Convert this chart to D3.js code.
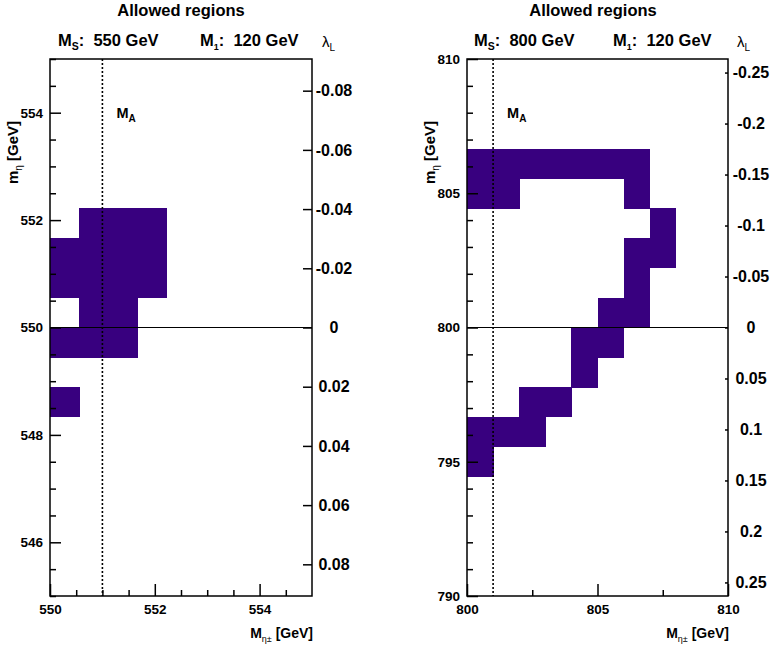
<!DOCTYPE html>
<html>
<head>
<meta charset="utf-8">
<script src="https://cdn.jsdelivr.net/npm/d3@7"></script>
<style>
  body { margin: 0; background: #fff; }
  svg { display: block; }
  text { font-family: "Liberation Sans", Arial, Helvetica, sans-serif; font-weight: bold; fill: #000; }
</style>
</head>
<body>
<svg id="chart" width="770" height="649"></svg>
<script>
// Scan parameters of each panel
const scalarMass = [550, 800];        // M_S [GeV]
const inertMass = [120, 120];         // M_1 [GeV]
const pseudoscalarMass = [551, 801];  // M_A [GeV]

// Histogram binning: charged mass (x) and neutral mass (y)
const chargedRange = [[550, 555], [800, 810]];
const chargedBins = [9, 10];
const neutralRange = [[545, 555], [790, 810]];
const neutralBins = [18, 18];

// Allowed bins, as [x bin, y bin]
const allowedLeft = [
  [1, 12], [2, 12], [3, 12],
  [0, 11], [1, 11], [2, 11], [3, 11],
  [0, 10], [1, 10], [2, 10], [3, 10],
  [1, 9], [2, 9],
  [0, 8], [1, 8], [2, 8],
  [0, 6]
];
const allowedRight = [
  [0, 14], [1, 14], [2, 14], [3, 14], [4, 14], [5, 14], [6, 14],
  [0, 13], [1, 13], [6, 13],
  [7, 12],
  [6, 11], [7, 11],
  [6, 10],
  [5, 9], [6, 9],
  [4, 8], [5, 8],
  [4, 7],
  [2, 6], [3, 6],
  [0, 5], [1, 5], [2, 5],
  [0, 4]
];

// Axis ticks
const xMajorTicks = [[550, 552, 554], [800, 805, 810]];
const xMinorTicks = [
  [550.5, 551, 551.5, 552.5, 553, 553.5, 554.5],
  [802.5, 807.5]
];
const yMajorTicks = [[546, 548, 550, 552, 554], [790, 795, 800, 805, 810]];
const yMinorTicks = [
  [545, 545.5, 546.5, 547, 547.5, 548.5, 549, 549.5, 550.5, 551, 551.5, 552.5, 553, 553.5, 554.5, 555],
  [791, 792, 793, 794, 796, 797, 798, 799, 801, 802, 803, 804, 806, 807, 808, 809]
];
// lambda_L axis: value at the frame edges, ticks and their labels
const lambdaEdge = [0.0907, 0.2633];
const lambdaTicks = [
  [-0.08, -0.06, -0.04, -0.02, 0, 0.02, 0.04, 0.06, 0.08],
  [-0.25, -0.2, -0.15, -0.1, -0.05, 0, 0.05, 0.1, 0.15, 0.2, 0.25]
];
const lambdaLabels = [
  ["-0.08", "-0.06", "-0.04", "-0.02", "0", "0.02", "0.04", "0.06", "0.08"],
  ["-0.25", "-0.2", "-0.15", "-0.1", "-0.05", "0", "0.05", "0.1", "0.15", "0.2", "0.25"]
];

const svg = d3.select("#chart");
const fill = "#38007f";

// Panel frames
const frames = [
  { x0: 50, x1: 312, y0: 59, y1: 596, titleX: 181, msX: 58, m1X: 200, lamX: 322, lamLabelX: 334, lamTick: 9 },
  { x0: 467, x1: 728, y0: 59, y1: 596, titleX: 593, msX: 474, m1X: 613, lamX: 737, lamLabelX: 751, lamTick: 3 }
];
const cells = [allowedLeft, allowedRight];

function styleTicks(sel) {
  sel.selectAll(".domain").remove();
  sel.selectAll(".tick line").attr("stroke", "#000").attr("stroke-width", 1.5);
  sel.attr("font-family", null).attr("font-size", null);
}

frames.forEach((f, p) => {
  const g = svg.append("g");
  const x = d3.scaleLinear().domain(chargedRange[p]).range([f.x0, f.x1]);
  const y = d3.scaleLinear().domain(neutralRange[p]).range([f.y1, f.y0]);
  const lam = d3.scaleLinear().domain([-lambdaEdge[p], lambdaEdge[p]]).range([f.y0, f.y1]);

  const bx = (chargedRange[p][1] - chargedRange[p][0]) / chargedBins[p];
  const by = (neutralRange[p][1] - neutralRange[p][0]) / neutralBins[p];

  // allowed bins
  g.append("g").selectAll("rect").data(cells[p]).join("rect")
    .attr("x", d => x(chargedRange[p][0] + d[0] * bx))
    .attr("y", d => y(neutralRange[p][0] + (d[1] + 1) * by))
    .attr("width", d => x(chargedRange[p][0] + (d[0] + 1) * bx) - x(chargedRange[p][0] + d[0] * bx) + 0.4)
    .attr("height", d => y(neutralRange[p][0] + d[1] * by) - y(neutralRange[p][0] + (d[1] + 1) * by) + 0.4)
    .attr("fill", fill)
    .attr("shape-rendering", "crispEdges");

  // lambda_L = 0 line
  g.append("line")
    .attr("x1", f.x0).attr("x2", f.x1)
    .attr("y1", lam(0)).attr("y2", lam(0))
    .attr("stroke", "#000").attr("stroke-width", 1.2);

  // M_A marker
  g.append("line")
    .attr("x1", x(pseudoscalarMass[p])).attr("x2", x(pseudoscalarMass[p]))
    .attr("y1", f.y0).attr("y2", f.y1)
    .attr("stroke", "#000").attr("stroke-width", 1.6)
    .attr("stroke-dasharray", "2,2");
  const ma = g.append("text")
    .attr("x", x(pseudoscalarMass[p]) + 14).attr("y", 118)
    .attr("font-size", 14.5);
  ma.append("tspan").text("M");
  ma.append("tspan").attr("font-size", 10).attr("dy", 4).text("A");

  // bottom axis (ticks inside the frame)
  const bottom = g.append("g").attr("transform", `translate(0,${f.y1})`);
  bottom.call(d3.axisBottom(x).tickValues(xMajorTicks[p]).tickSize(-12).tickPadding(8).tickFormat(d3.format("d")));
  bottom.append("g").call(d3.axisBottom(x).tickValues(xMinorTicks[p]).tickSize(-6).tickFormat(""));
  styleTicks(bottom);
  bottom.selectAll("text").attr("font-size", 13.5);

  // left axis
  const left = g.append("g").attr("transform", `translate(${f.x0},0)`);
  left.call(d3.axisLeft(y).tickValues(yMajorTicks[p]).tickSize(-11).tickPadding(7).tickFormat(d3.format("d")));
  left.append("g").call(d3.axisLeft(y).tickValues(yMinorTicks[p]).tickSize(-6).tickFormat(""));
  styleTicks(left);
  left.selectAll("text").attr("font-size", 13.5);

  // right axis: lambda_L
  const right = g.append("g").attr("transform", `translate(${f.x1},0)`);
  right.call(d3.axisRight(lam).tickValues(lambdaTicks[p]).tickSize(-f.lamTick)
    .tickFormat((d, i) => lambdaLabels[p][i]));
  styleTicks(right);
  right.selectAll("text")
    .attr("x", f.lamLabelX - f.x1)
    .attr("text-anchor", "middle")
    .attr("font-size", 16);

  // frame
  g.append("rect")
    .attr("x", f.x0).attr("y", f.y0)
    .attr("width", f.x1 - f.x0).attr("height", f.y1 - f.y0)
    .attr("fill", "none").attr("stroke", "#000").attr("stroke-width", 1.5);

  // titles
  g.append("text").attr("x", f.titleX).attr("y", 16)
    .attr("text-anchor", "middle").attr("font-size", 16.5).text("Allowed regions");

  const ms = g.append("text").attr("x", f.msX).attr("y", 46).attr("font-size", 16.5);
  ms.append("tspan").text("M");
  ms.append("tspan").attr("font-size", 10.5).attr("dy", 4).text("S");
  ms.append("tspan").attr("dy", -4).text(`:\u00a0\u00a0${scalarMass[p]} GeV`);

  const m1 = g.append("text").attr("x", f.m1X).attr("y", 46).attr("font-size", 16.5);
  m1.append("tspan").text("M");
  m1.append("tspan").attr("font-size", 9).attr("dy", 4).text("1");
  m1.append("tspan").attr("dy", -4).text(`:\u00a0\u00a0${inertMass[p]} GeV`);

  const lt = g.append("text").attr("x", f.lamX).attr("y", 47)
    .attr("font-size", 15).style("font-weight", "normal");
  lt.append("tspan").text("\u03bb");
  lt.append("tspan").attr("font-size", 10).attr("dy", 4).text("L");

  // axis titles
  const xt = g.append("text").attr("x", f.x1 + 1).attr("y", 638)
    .attr("text-anchor", "end").attr("font-size", 14);
  xt.append("tspan").text("M");
  xt.append("tspan").attr("font-size", 9).attr("dy", 4).style("font-weight", "normal").text("\u03b7\u00b1");
  xt.append("tspan").attr("dy", -4).text(" [GeV]");

  const yt = g.append("text")
    .attr("transform", `translate(${f.x0 - 32},121) rotate(-90)`)
    .attr("text-anchor", "end").attr("font-size", 15);
  yt.append("tspan").text("m");
  yt.append("tspan").attr("font-size", 10).attr("dy", 4).style("font-weight", "normal").text("\u03b7");
  yt.append("tspan").attr("dy", -4).text(" [GeV]");
});
</script>
</body>
</html>
